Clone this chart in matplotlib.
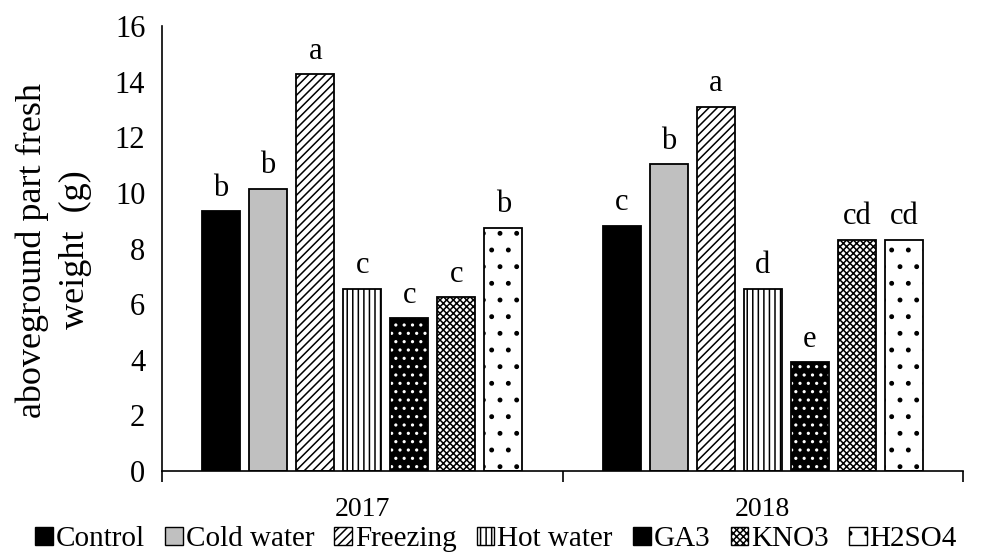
import matplotlib
matplotlib.use("Agg")
import matplotlib.pyplot as plt
import numpy as np
from matplotlib.patches import Patch

plt.rcParams["font.family"] = ["Liberation Serif", "DejaVu Serif"]
plt.rcParams["hatch.linewidth"] = 1.1

years = ["2017", "2018"]
treatments = ["Control", "Cold water", "Freezing", "Hot water", "GA3", "KNO3", "H2SO4"]
values_2017 = [9.35, 10.15, 14.28, 6.55, 5.5, 6.26, 8.75]
values_2018 = [8.82, 11.03, 13.1, 6.55, 3.92, 8.32, 8.32]
letters_2017 = ["b", "b", "a", "c", "c", "c", "b"]
letters_2018 = ["c", "b", "a", "d", "e", "cd", "cd"]

# (facecolor, hatch, hatch colour)
styles = [
    ("black", None, "black"),
    ("#c0c0c0", None, "black"),
    ("white", "////", "black"),
    ("white", "|||", "black"),
    ("black", "..", "white"),
    ("white", "xxxxx", "black"),
    ("white", ".", "black"),
]

fig = plt.figure(figsize=(9.92, 5.6), dpi=100)
ax = fig.add_axes([162 / 992, 1 - 471 / 560, (963 - 162) / 992, (471 - 26) / 560])

x = np.arange(len(years))
step = 0.1175
width = 0.095
values = np.array([values_2017, values_2018])
letters = [letters_2017, letters_2018]

for i, name in enumerate(treatments):
    fc, hatch, hc = styles[i]
    pos = x + (i - 3) * step
    ax.bar(pos, values[:, i], width, color=fc, edgecolor=hc, hatch=hatch, linewidth=0)
    ax.bar(pos, values[:, i], width, fill=False, edgecolor="black", linewidth=1.3)
    for j in range(len(years)):
        ax.annotate(letters[j][i], (pos[j], values[j, i]), xytext=(0, 6),
                    textcoords="offset points", ha="center", va="bottom", fontsize=22)

ax.set_xlim(-0.5, 1.5)
ax.set_ylim(0, 16)
ax.set_yticks(np.arange(0, 17, 2))
ax.tick_params(axis="y", length=0, labelsize=22, pad=12)
ax.set_xticks([-0.5, 0.5, 1.5])
ax.set_xticklabels([])
ax.set_xticks(x, minor=True)
ax.set_xticklabels(years, minor=True)
ax.tick_params(axis="x", which="major", direction="out", length=8, width=1.2)
ax.tick_params(axis="x", which="minor", length=0, labelsize=20, pad=19)
for side in ("top", "right"):
    ax.spines[side].set_visible(False)
for side in ("left", "bottom"):
    ax.spines[side].set_linewidth(1.2)

fig.text(54 / 992, 1 - 250 / 560, "aboveground part fresh\nweight  (g)", rotation=90,
         ha="center", va="center", fontsize=26, linespacing=1.4)

handles = []
for i, name in enumerate(treatments):
    fc, hatch, hc = styles[i]
    handles.append(Patch(facecolor=fc, edgecolor="black", hatch=hatch, linewidth=1))
leg = fig.legend(handles, treatments, loc="lower center", bbox_to_anchor=(0.5, -0.012),
                 ncol=7, frameon=False, fontsize=21, handlelength=0.6, handleheight=0.6,
                 handletextpad=0.1, columnspacing=0.7, borderpad=0.0)

fig.savefig("out.png", dpi=100)
